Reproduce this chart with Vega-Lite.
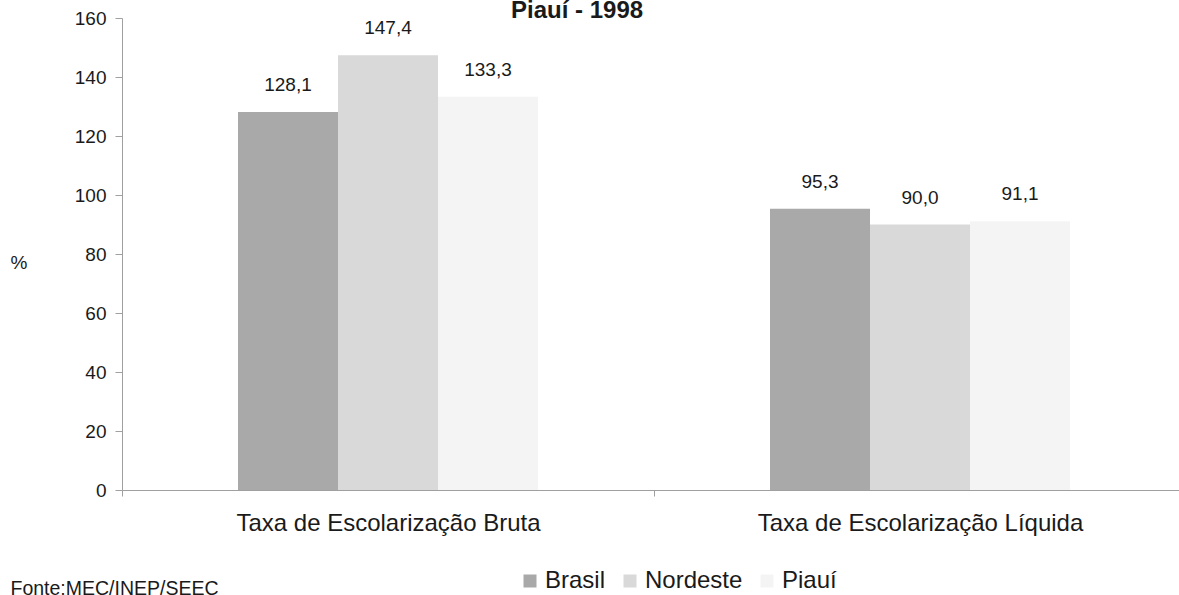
{
  "$schema": "https://vega.github.io/schema/vega-lite/v6.json",
  "width": 1057,
  "height": 472,
  "autosize": {"type": "none"},
  "padding": {"left": 122, "top": 18, "right": 0, "bottom": 105},
  "background": "white",
  "title": {"text": "Piauí - 1998", "fontSize": 24, "fontWeight": "bold", "font": "Liberation Sans", "color": "#1a1a1a", "frame": "group", "anchor": "start", "dx": 389, "offset": -33, "baseline": "alphabetic"},
  "data": {"values": [
    {"cat": "Taxa de Escolarização Bruta", "serie": "Brasil", "valor": 128.1, "label": "128,1"},
    {"cat": "Taxa de Escolarização Bruta", "serie": "Nordeste", "valor": 147.4, "label": "147,4"},
    {"cat": "Taxa de Escolarização Bruta", "serie": "Piauí", "valor": 133.3, "label": "133,3"},
    {"cat": "Taxa de Escolarização Líquida", "serie": "Brasil", "valor": 95.3, "label": "95,3"},
    {"cat": "Taxa de Escolarização Líquida", "serie": "Nordeste", "valor": 90.0, "label": "90,0"},
    {"cat": "Taxa de Escolarização Líquida", "serie": "Piauí", "valor": 91.1, "label": "91,1"}
  ]},
  "encoding": {
    "x": {"field": "cat", "type": "nominal", "sort": null,
      "scale": {"range": [0, 1064], "paddingInner": 0, "paddingOuter": 0},
      "axis": {"title": "Fonte:MEC/INEP/SEEC", "titleX": -112, "titleY": 104, "titleAlign": "left", "titleBaseline": "alphabetic", "titleFontWeight": "normal", "titleFontSize": 19.5, "titleFont": "Liberation Sans", "titleColor": "#1a1a1a",
        "labelAngle": 0, "labelFontSize": 24, "labelFont": "Liberation Sans", "labelColor": "#1a1a1a", "labelPadding": 15, "labelLimit": 0,
        "tickBand": "extent", "tickSize": 6, "tickColor": "#a0a0a0", "domainColor": "#a0a0a0", "grid": false}},
    "xOffset": {"field": "serie", "type": "nominal", "sort": ["Brasil", "Nordeste", "Piauí"], "scale": {"range": [116, 416], "paddingInner": 0, "paddingOuter": 0}},
    "y": {"field": "valor", "type": "quantitative",
      "scale": {"domain": [0, 160], "nice": false},
      "axis": {"title": "%", "titleAngle": 0, "titleX": -112, "titleY": 244, "titleAlign": "left", "titleBaseline": "middle", "titleFontWeight": "normal", "titleFontSize": 19, "titleFont": "Liberation Sans", "titleColor": "#1a1a1a",
        "values": [0, 20, 40, 60, 80, 100, 120, 140, 160], "labelFontSize": 19, "labelFont": "Liberation Sans", "labelColor": "#1a1a1a", "labelPadding": 9,
        "tickSize": 7, "tickColor": "#a0a0a0", "domainColor": "#a0a0a0", "grid": false}}
  },
  "layer": [
    {"mark": {"type": "bar"},
      "encoding": {"color": {"field": "serie", "type": "nominal", "sort": ["Brasil", "Nordeste", "Piauí"],
        "scale": {"domain": ["Brasil", "Nordeste", "Piauí"], "range": ["#a9a9a9", "#d9d9d9", "#f4f4f4"]},
        "legend": {"title": null, "orient": "none", "legendX": 396, "legendY": 551, "direction": "horizontal", "columns": 3, "symbolType": "square", "symbolSize": 169, "symbolStrokeWidth": 0, "labelFontSize": 24, "labelFont": "Liberation Sans", "labelColor": "#1a1a1a", "columnPadding": 12, "labelOffset": 3}}}},
    {"mark": {"type": "text", "baseline": "middle", "dy": -27, "fontSize": 19, "font": "Liberation Sans", "color": "#1a1a1a"},
      "encoding": {"text": {"field": "label"}}}
  ],
  "config": {"view": {"stroke": null}}
}
